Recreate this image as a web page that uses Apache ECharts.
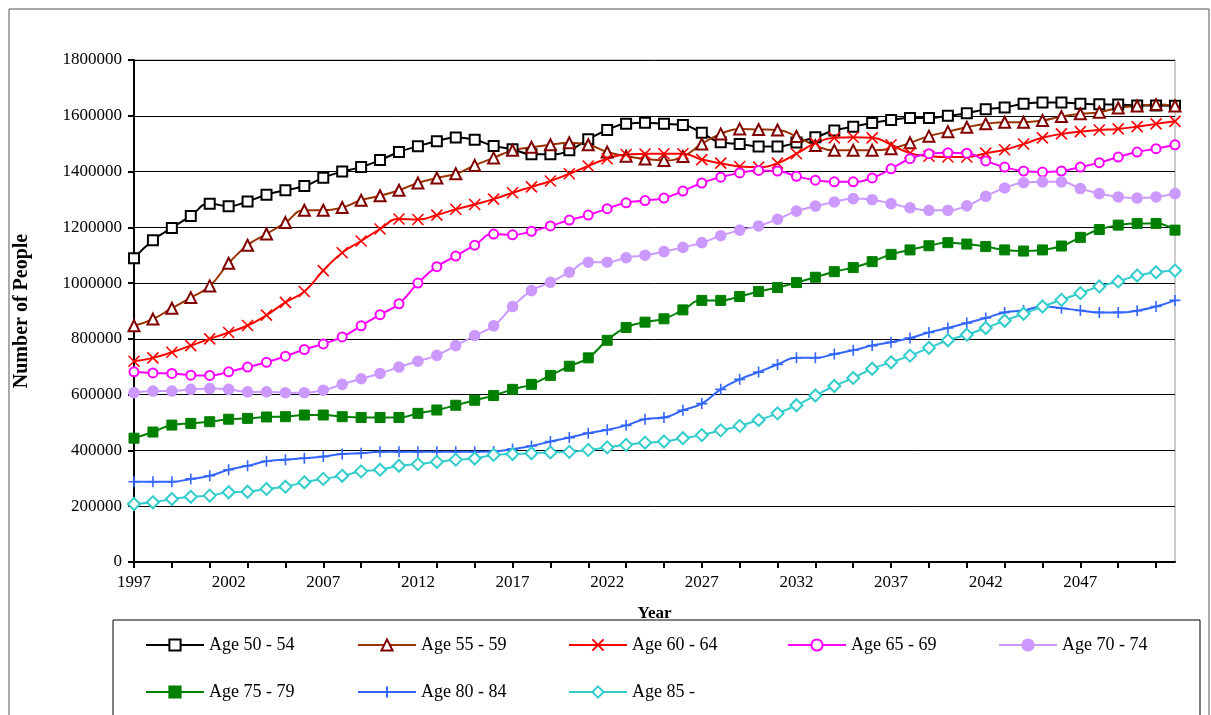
<!DOCTYPE html>
<html>
<head>
<meta charset="utf-8">
<script src="https://cdn.jsdelivr.net/npm/echarts@6/dist/echarts.min.js"></script>
<style>html,body{margin:0;padding:0;background:#fff}#main{width:1211px;height:715px}</style>
</head>
<body>
<div id="main"></div>
<script>
// years 1997 - 2052
var years = [];
for (var y = 1997; y <= 2052; y++) years.push(String(y));

var age5054 = [1089000,1154000,1198000,1241000,1285000,1276000,1293000,1317000,1333000,1348000,1378000,1400000,1416000,1441000,1470000,1491000,1509000,1522000,1514000,1492000,1480000,1462000,1462000,1476000,1516000,1549000,1571000,1575000,
  1571000,1567000,1539000,1505000,1499000,1490000,1490000,1504000,1523000,1547000,1561000,1574000,1585000,1592000,1592000,1600000,1609000,1623000,1630000,1643000,1648000,1648000,1643000,1641000,1640000,1637000,1637000,1636000];
var age5559 = [847000,871000,910000,948000,990000,1071000,1136000,1176000,1217000,1261000,1261000,1271000,1297000,1313000,1333000,1359000,1377000,1392000,1422000,1449000,1476000,1487000,1496000,1503000,1496000,1470000,1455000,1445000,
  1440000,1454000,1499000,1535000,1553000,1551000,1549000,1526000,1493000,1476000,1476000,1476000,1482000,1503000,1527000,1543000,1559000,1571000,1577000,1577000,1583000,1597000,1607000,1613000,1628000,1635000,1640000,1635000];
var age6064 = [720000,732000,752000,776000,800000,823000,848000,885000,931000,970000,1045000,1109000,1151000,1194000,1230000,1228000,1244000,1265000,1282000,1301000,1324000,1345000,1366000,1392000,1420000,1446000,1461000,1463000,
  1464000,1464000,1443000,1430000,1418000,1416000,1430000,1464000,1502000,1521000,1523000,1521000,1496000,1466000,1455000,1452000,1452000,1466000,1478000,1499000,1521000,1535000,1543000,1549000,1553000,1561000,1571000,1580000];
var age6569 = [682000,678000,676000,670000,669000,682000,699000,716000,738000,762000,782000,807000,847000,887000,926000,1000000,1059000,1097000,1136000,1176000,1173000,1186000,1205000,1226000,1244000,1267000,1288000,1296000,
  1305000,1330000,1359000,1380000,1395000,1404000,1402000,1383000,1369000,1363000,1363000,1377000,1410000,1446000,1464000,1467000,1466000,1438000,1416000,1402000,1398000,1402000,1416000,1432000,1452000,1470000,1482000,1496000];
var age7074 = [607000,613000,613000,619000,622000,619000,610000,610000,607000,607000,616000,637000,657000,676000,699000,720000,741000,776000,812000,847000,916000,973000,1003000,1039000,1075000,1075000,1091000,1100000,
  1113000,1128000,1145000,1170000,1190000,1205000,1229000,1258000,1276000,1291000,1303000,1299000,1285000,1270000,1261000,1261000,1277000,1311000,1341000,1360000,1363000,1363000,1339000,1321000,1309000,1305000,1309000,1321000];
var age7579 = [444000,466000,491000,497000,503000,512000,515000,520000,521000,527000,527000,521000,518000,518000,518000,533000,545000,562000,580000,597000,619000,637000,669000,702000,732000,795000,841000,860000,
  872000,904000,938000,938000,952000,970000,984000,1002000,1021000,1041000,1056000,1077000,1103000,1119000,1134000,1145000,1140000,1131000,1119000,1115000,1119000,1133000,1164000,1192000,1208000,1214000,1214000,1190000];
var age8084 = [288000,288000,288000,298000,309000,331000,345000,361000,367000,372000,378000,387000,390000,395000,395000,395000,395000,395000,395000,396000,405000,416000,432000,446000,462000,474000,490000,512000,
  518000,544000,568000,619000,655000,681000,708000,732000,732000,746000,759000,776000,788000,803000,823000,839000,857000,875000,895000,902000,916000,910000,902000,895000,895000,901000,916000,938000];
var age85 = [208000,214000,226000,234000,238000,250000,252000,262000,270000,286000,298000,309000,325000,331000,345000,351000,359000,367000,371000,384000,387000,390000,393000,395000,402000,411000,420000,428000,
  432000,444000,455000,472000,488000,509000,533000,562000,597000,631000,660000,693000,716000,740000,768000,795000,815000,839000,865000,890000,916000,940000,964000,988000,1006000,1027000,1039000,1045000];

var names = ['Age 50 - 54','Age 55 - 59','Age 60 - 64','Age 65 - 69','Age 70 - 74','Age 75 - 79','Age 80 - 84','Age 85 -'];

var xMark = 'path://M0,0L10,10M10,0L0,10';
var plusMark = 'path://M5,0L5,10M0,5L10,5';

function mk(name, data, color, symbol, size, opts) {
  opts = opts || {};
  return {
    name: name, type: 'line', data: data, smooth: true,
    symbol: symbol, symbolSize: size, showAllSymbol: true,
    lineStyle: {color: opts.line || color, width: 2},
    itemStyle: {color: opts.fill || color, borderColor: color, borderWidth: opts.bw || 1.6},
    emphasis: {disabled: true}
  };
}

var font = 'Liberation Serif';
var legendPos = [[140, 631], [352, 631], [563, 631], [782, 631], [993, 631], [140, 678], [352, 678], [563, 678]];
var legends = names.map(function (n, i) {
  return {
    data: [n], left: legendPos[i][0], top: legendPos[i][1], z: 20,
    itemWidth: 58, itemHeight: 14, itemGap: 0, selectedMode: false,
    textStyle: {fontFamily: font, fontSize: 18, color: '#000'}
  };
});

var chart = echarts.init(document.getElementById('main'));
chart.setOption({
  animation: false,
  textStyle: {fontFamily: font},
  grid: {left: 134, right: 36, top: 60, bottom: 153, show: true, borderColor: '#999', borderWidth: 1},
  graphic: [
    {type: 'rect', shape: {x: 9, y: 9, width: 1200, height: 720}, style: {fill: 'none', stroke: '#555', lineWidth: 1}},
    {type: 'rect', z: 10, shape: {x: 113, y: 620, width: 1087, height: 110}, style: {fill: '#fff', stroke: '#000', lineWidth: 1}}
  ],
  legend: legends,
  xAxis: {
    type: 'category', data: years, boundaryGap: false,
    name: 'Year', nameLocation: 'middle', nameGap: 43,
    nameTextStyle: {fontFamily: font, fontWeight: 'bold', fontSize: 17, color: '#000'},
    axisLine: {lineStyle: {color: '#000', width: 2}},
    axisTick: {interval: 1, length: 6, lineStyle: {color: '#000', width: 2}},
    axisLabel: {
      interval: function (i) { return i % 5 === 0 && i < 55; },
      color: '#000', fontSize: 17, fontFamily: font, margin: 12
    },
    splitLine: {show: false}
  },
  yAxis: {
    type: 'value', min: 0, max: 1800000, interval: 200000,
    name: 'Number of People', nameLocation: 'middle', nameGap: 102, nameRotate: 90,
    nameTextStyle: {fontFamily: font, fontWeight: 'bold', fontSize: 20, color: '#000'},
    axisLine: {show: true, lineStyle: {color: '#000', width: 2}},
    axisTick: {show: true, length: 6, lineStyle: {color: '#000', width: 2}},
    axisLabel: {color: '#000', fontSize: 17, fontFamily: font, margin: 12, formatter: function (v) { return String(v); }},
    splitLine: {lineStyle: {color: '#000', width: 1}}
  },
  series: [
    mk(names[0], age5054, '#000000', 'emptyRect', 10),
    mk(names[1], age5559, '#800000', 'emptyTriangle', 11, {line: '#993300'}),
    mk(names[2], age6064, '#ff0000', xMark, 11),
    mk(names[3], age6569, '#ff00ff', 'emptyCircle', 9),
    mk(names[4], age7074, '#cc99ff', 'circle', 10),
    mk(names[5], age7579, '#008000', 'rect', 10, {bw: 1}),
    mk(names[6], age8084, '#3366ff', plusMark, 11),
    mk(names[7], age85, '#33cccc', 'emptyDiamond', 12)
  ]
});
</script>
</body>
</html>
